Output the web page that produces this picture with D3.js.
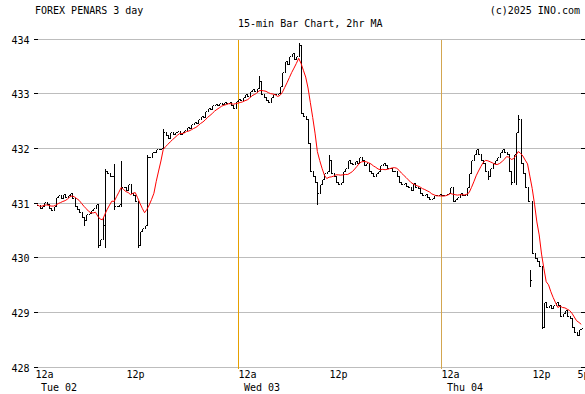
<!DOCTYPE html>
<html><head><meta charset="utf-8">
<script src="https://cdn.jsdelivr.net/npm/d3@7/dist/d3.min.js"></script>
<style>
body{margin:0;background:#fff}
svg{display:block}
text{font-family:"DejaVu Sans Mono",monospace;font-size:10px;fill:#000}
</style>
</head><body>
<svg id="chart" width="585" height="394"></svg>
<script>
const title = "FOREX PENARS 3 day";
const subtitle = "15-min Bar Chart, 2hr MA";
const credit = "(c)2025 INO.com";
const priceTicks = [428, 429, 430, 431, 432, 433, 434];
const timeLabels = ["12a", "12p", "12a", "12p", "12a", "12p", "5p"];
const timeLabelBars = [0, 39, 87, 126, 174, 213, 232];
const dayLabels = ["Tue 02", "Wed 03", "Thu 04"];
const dayLabelBars = [0, 87, 174];
const dayDividerBars = [87, 174];
const maPeriod = 8; // 2hr of 15-min bars

// 15-min closes
const closes = [
  430.98, 430.92, 430.95, 431.02, 431.0, 430.92, 430.88, 430.95, 431.12, 431.15,
  431.1, 431.18, 431.12, 431.15, 431.2, 431.1, 430.95, 430.9, 430.85, 430.75,
  430.7, 430.8, 430.82, 430.88, 430.92, 431.0, 430.25, 430.35, 430.6, 431.6,
  431.55, 431.5, 431.5, 430.95, 430.95, 431.0, 431.3, 431.3, 431.25, 431.35,
  431.2, 431.15, 431.05, 430.25, 430.5, 430.55, 430.6, 431.85, 431.85, 431.95,
  431.95, 432.0, 432.0, 432.02, 432.3, 432.25, 432.2, 432.3, 432.28, 432.3,
  432.32, 432.28, 432.3, 432.35, 432.4, 432.38, 432.45, 432.5, 432.48, 432.55,
  432.6, 432.58, 432.7, 432.75, 432.72, 432.8, 432.82, 432.8, 432.83, 432.82,
  432.85, 432.83, 432.85, 432.8, 432.75, 432.88, 432.92, 432.9, 432.95, 433.0,
  432.97, 433.05, 433.1, 433.05, 433.12, 433.25, 433.0, 432.95, 432.9, 432.85,
  432.95, 433.0, 433.0, 433.02, 433.15, 433.4, 433.6, 433.55, 433.7, 433.75,
  433.65, 433.7, 433.9, 432.65, 432.6, 432.55, 432.1, 431.6, 431.5, 431.4,
  431.2, 431.35, 431.45, 431.55, 431.6, 431.8, 431.55, 431.5, 431.4, 431.35,
  431.4, 431.6, 431.65, 431.8, 431.75, 431.72, 431.78, 431.75, 431.85, 431.8,
  431.7, 431.75, 431.6, 431.55, 431.5, 431.55, 431.6, 431.7, 431.75, 431.7,
  431.65, 431.65, 431.6, 431.6, 431.5, 431.4, 431.35, 431.38, 431.32, 431.3,
  431.25, 431.38, 431.3, 431.28, 431.2, 431.15, 431.18, 431.12, 431.08, 431.1,
  431.15, 431.15, 431.18, 431.15, 431.15, 431.18, 431.2, 431.3, 431.05, 431.08,
  431.12, 431.2, 431.15, 431.15, 431.3, 431.55, 431.8, 431.9, 432.0, 431.9,
  431.8, 431.75, 431.6, 431.5, 431.65, 431.75, 431.8, 431.85, 431.95, 432.0,
  431.95, 431.9, 431.6, 431.4, 431.9, 432.3, 432.55, 431.75, 431.55, 431.3,
  431.05, 429.6, 430.1, 430.0, 429.95, 429.85, 428.75, 429.2, 429.1, 429.15,
  429.08, 429.15, 429.2, 429.15, 428.95, 429.0, 429.05, 428.95, 428.9, 428.75,
  428.65, 428.6, 428.7, 428.72
];
// bars whose range reaches beyond open/close: [bar, value]
const highOverrides = [[28, 430.75], [29, 431.65], [33, 431.75], [36, 431.8], [47, 431.9],
  [54, 432.38], [95, 433.35], [112, 433.95], [125, 431.9], [206, 432.63], [211, 429.8]];
const lowOverrides = [[20, 430.6], [26, 430.2], [29, 430.2], [33, 430.9], [36, 430.95],
  [43, 430.2], [120, 431.0], [193, 431.45], [203, 431.35], [205, 431.35], [211, 429.5], [216, 428.72]];
const openOverrides = [[211, 429.75], [212, 431.05]];

const W = 585, H = 394;
const svg = d3.select("#chart");
const nBars = closes.length;
const x = d3.scaleLinear().domain([0, nBars]).range([36, 582.4]);
const y = d3.scaleLinear().domain([428, 434]).range([367.5, 39.5]);
const px = v => Math.round(v) - 0.5;

const hiMap = new Map(highOverrides), loMap = new Map(lowOverrides), opMap = new Map(openOverrides);
const bars = closes.map((c, i) => {
  const o = opMap.has(i) ? opMap.get(i) : (i > 0 ? closes[i - 1] : c);
  let h = Math.max(o, c), l = Math.min(o, c);
  if (hiMap.has(i)) h = Math.max(h, hiMap.get(i));
  if (loMap.has(i)) l = Math.min(l, loMap.get(i));
  return {i, o, h, l, c};
});
const ma = closes.map((c, i) => d3.mean(closes.slice(Math.max(0, i - maPeriod + 1), i + 1)));

// gridlines
svg.append("g").selectAll("line").data(priceTicks).join("line")
  .attr("x1", 38).attr("x2", 584)
  .attr("y1", d => px(y(d))).attr("y2", d => px(y(d)))
  .attr("stroke", "#bdbdbd").attr("shape-rendering", "crispEdges");
// tick marks left & right
svg.append("g").selectAll("line").data(priceTicks).join("line")
  .attr("x1", 34).attr("x2", 38)
  .attr("y1", d => px(y(d))).attr("y2", d => px(y(d)))
  .attr("stroke", "#000").attr("shape-rendering", "crispEdges");
svg.append("g").selectAll("line").data(priceTicks).join("line")
  .attr("x1", 581).attr("x2", 585)
  .attr("y1", d => px(y(d))).attr("y2", d => px(y(d)))
  .attr("stroke", "#000").attr("shape-rendering", "crispEdges");
// y labels
svg.append("g").selectAll("text").data(priceTicks).join("text")
  .attr("x", 29.5).attr("y", d => y(d) + 4)
  .attr("text-anchor", "end").text(d => d);

// day dividers
const divColors = ["#e6a000", "#d3a650"];
svg.append("g").selectAll("line").data(dayDividerBars).join("line")
  .attr("x1", d => px(x(d))).attr("x2", d => px(x(d)))
  .attr("y1", y(434)).attr("y2", y(428) + 1)
  .attr("stroke", (d, k) => divColors[k]).attr("shape-rendering", "crispEdges");

// x labels
svg.append("g").selectAll("text").data(timeLabels).join("text")
  .attr("x", (d, k) => px(x(timeLabelBars[k]))).attr("y", 377.5).text(d => d);
svg.append("g").selectAll("text").data(dayLabels).join("text")
  .attr("x", (d, k) => px(x(dayLabelBars[k])) + 5.5).attr("y", 391).text(d => d);

// bars
const cx = i => Math.round(x(i + 0.5)) + 0.5;
const yp = v => Math.round(y(v)) + 0.5;
svg.append("path")
  .attr("d", bars.map(b => {
    const c = cx(b.i);
    return `M${c},${yp(b.h)}V${yp(b.l)}M${c - 1},${yp(b.o)}H${c}M${c},${yp(b.c)}H${c + 1}`;
  }).join(""))
  .attr("fill", "none").attr("stroke", "#000").attr("stroke-width", 1)
  .attr("shape-rendering", "crispEdges");

// moving average
svg.append("path").datum(ma)
  .attr("d", d3.line().x((d, i) => x(i + 0.5)).y(d => y(d)))
  .attr("fill", "none").attr("stroke", "#ff0000").attr("stroke-width", 1);

// titles
svg.append("text").attr("x", 35).attr("y", 14).text(title);
svg.append("text").attr("x", 238).attr("y", 27).text(subtitle);
svg.append("text").attr("x", 580).attr("y", 14).attr("text-anchor", "end").text(credit);
</script>
</body></html>
